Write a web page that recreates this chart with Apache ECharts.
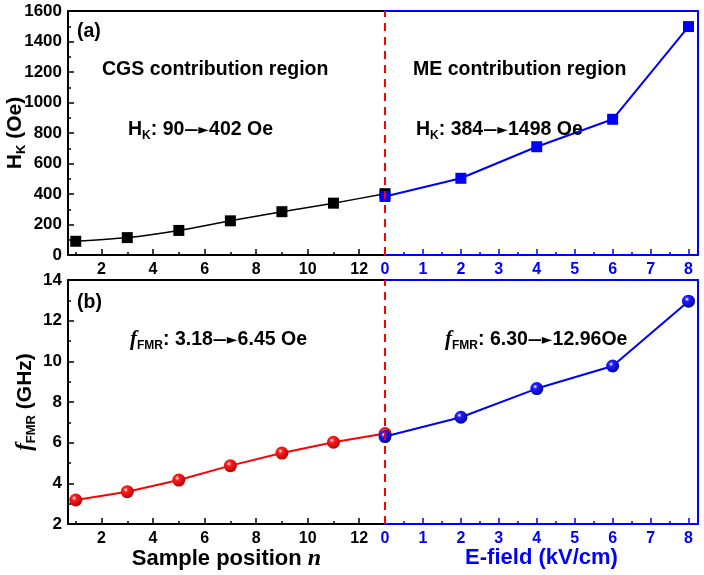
<!DOCTYPE html>
<html>
<head>
<meta charset="utf-8">
<script src="https://cdn.jsdelivr.net/npm/echarts@6/dist/echarts.min.js"></script>
<style>html,body{margin:0;padding:0;background:#fff}#c{width:704px;height:575px}</style>
</head>
<body>
<div id="c"></div>
<script>
// ---- data ----
const nPos = [1, 3, 5, 7, 9, 11, 13];
const hkCGS = [90, 114, 161, 224, 284, 340, 402];
const eField = [0, 2, 4, 6, 8];
const hkME = [384, 503, 710, 890, 1498];
const fCGS = [3.18, 3.59, 4.16, 4.87, 5.49, 6.02, 6.45];
const fME = [6.30, 7.25, 8.66, 9.77, 12.96];
const nMajorTicks = [2, 4, 6, 8, 10, 12];
const nMinorTicks = [1, 3, 5, 7, 9, 11, 13];
const eMajorTicks = [0, 1, 2, 3, 4, 5, 6, 7, 8];
const eMinorTicks = [0.5, 1.5, 2.5, 3.5, 4.5, 5.5, 6.5, 7.5];

const BLACK = '#000000', BLUE = '#0000ff', RED = '#ff0000';
const SANS = '"Liberation Sans", Arial, sans-serif';
const SERIF = '"Liberation Serif", "Times New Roman", serif';
const ARROW = '"DejaVu Sans", sans-serif';

function xAxes(grid, min, max, majors, minors, color, name, nameRich) {
  const main = {
    type: 'value', gridIndex: grid, min: min, max: max, position: 'bottom',
    axisLine: { show: true, onZero: false, lineStyle: { color: color, width: 2 } },
    axisTick: { show: true, inside: true, length: 6, customValues: majors, lineStyle: { color: color, width: 1.5 } },
    axisLabel: { show: true, customValues: majors, color: color, fontSize: 16, fontWeight: 'bold', fontFamily: SANS, margin: 7,
      formatter: v => String(v) },
    splitLine: { show: false }
  };
  if (name) {
    main.name = name;
    main.nameLocation = 'middle';
    main.nameGap = 23;
    main.nameMoveOverlap = false;
    main.nameTextStyle = { color: color, fontSize: 22, fontWeight: 'bold', fontFamily: SANS, rich: nameRich || {} };
  }
  const minor = {
    type: 'value', gridIndex: grid, min: min, max: max, position: 'bottom',
    axisLine: { show: false, onZero: false },
    axisTick: { show: true, inside: true, length: 3, customValues: minors, lineStyle: { color: color, width: 1.5 } },
    axisLabel: { show: false },
    splitLine: { show: false }
  };
  const top = {
    type: 'value', gridIndex: grid, min: min, max: max, position: 'top',
    axisLine: { show: true, onZero: false, lineStyle: { color: color, width: 2 } },
    axisTick: { show: false }, axisLabel: { show: false }, splitLine: { show: false }
  };
  return [main, minor, top];
}

function yLeft(grid, min, max, interval, name, nameGap, rich) {
  return {
    type: 'value', gridIndex: grid, min: min, max: max, interval: interval, position: 'left',
    axisLine: { show: true, onZero: false, lineStyle: { color: BLACK, width: 2 } },
    axisTick: { show: true, inside: true, length: 6, lineStyle: { color: BLACK, width: 1.5 } },
    minorTick: { show: true, splitNumber: 2, length: 3, lineStyle: { color: BLACK, width: 1.5 } },
    axisLabel: { color: BLACK, fontSize: 17, fontWeight: 'bold', fontFamily: SANS, margin: 6, formatter: v => String(v) },
    splitLine: { show: false },
    name: name, nameLocation: 'middle', nameGap: nameGap, nameMoveOverlap: false,
    nameTextStyle: { color: BLACK, fontSize: 21, fontWeight: 'bold', fontFamily: SANS, rich: rich }
  };
}
function yRight(grid, min, max) {
  return {
    type: 'value', gridIndex: grid, min: min, max: max, position: 'right',
    axisLine: { show: true, onZero: false, lineStyle: { color: BLUE, width: 2 } },
    axisTick: { show: false }, axisLabel: { show: false }, splitLine: { show: false }
  };
}

const richAnno = {
  a: { fontSize: 19.5, fontWeight: 'bold', fontFamily: SANS, color: BLACK, lineHeight: 24, verticalAlign: 'middle' },
  r: { fontSize: 14, fontFamily: ARROW, color: BLACK, lineHeight: 24, verticalAlign: 'middle' },
  s: { fontSize: 12, fontWeight: 'bold', fontFamily: SANS, color: BLACK, lineHeight: 12, verticalAlign: 'bottom' },
  f: { fontSize: 21, fontWeight: 'bold', fontStyle: 'italic', fontFamily: SERIF, color: BLACK, lineHeight: 24, verticalAlign: 'middle' }
};
const richYName = {
  a: { fontSize: 21, fontWeight: 'bold', fontFamily: SANS, color: BLACK, lineHeight: 26, verticalAlign: 'middle' },
  s: { fontSize: 13, fontWeight: 'bold', fontFamily: SANS, color: BLACK, lineHeight: 13, verticalAlign: 'bottom' },
  f: { fontSize: 23, fontWeight: 'bold', fontStyle: 'italic', fontFamily: SERIF, color: BLACK, lineHeight: 26, verticalAlign: 'middle' }
};

function pairs(xs, ys) { return xs.map((x, i) => [x, ys[i]]); }

function sphere(c0, c1) {
  return { type: 'radial', x: 0.38, y: 0.35, r: 0.7,
    colorStops: [{ offset: 0, color: '#ffffff' }, { offset: 0.25, color: c0 }, { offset: 1, color: c1 }] };
}

function title(text, left, top) {
  return { text: text, left: left, top: top, padding: 0,
    textStyle: { fontSize: 19.5, fontWeight: 'bold', fontFamily: SANS, color: BLACK, rich: richAnno } };
}

const dashLine = {
  silent: true, symbol: 'none', label: { show: false },
  lineStyle: { color: RED, type: [8, 6], width: 2 },
  data: [{ xAxis: 0 }]
};

const option = {
  animation: false,
  backgroundColor: '#ffffff',
  grid: [
    { left: 68, width: 317, top: 11, height: 244, outerBoundsMode: 'none', containLabel: false },
    { left: 385, right: 6, top: 11, height: 244, outerBoundsMode: 'none', containLabel: false },
    { left: 68, width: 317, top: 280, height: 244, outerBoundsMode: 'none', containLabel: false },
    { left: 385, right: 6, top: 280, height: 244, outerBoundsMode: 'none', containLabel: false }
  ],
  xAxis: [].concat(
    xAxes(0, 0.7, 13, nMajorTicks, nMinorTicks, BLACK),
    xAxes(1, 0, 8.25, eMajorTicks, eMinorTicks, BLUE),
    xAxes(2, 0.7, 13, nMajorTicks, nMinorTicks, BLACK, '{a|Sample position }{n|n}', {
      a: { fontSize: 22, fontWeight: 'bold', fontFamily: SANS, color: BLACK },
      n: { fontSize: 24, fontWeight: 'bold', fontStyle: 'italic', fontFamily: SERIF, color: BLACK }
    }),
    xAxes(3, 0, 8.25, eMajorTicks, eMinorTicks, BLUE, 'E-field (kV/cm)')
  ),
  yAxis: [
    yLeft(0, 0, 1600, 200, '{a|H}{s|K}{a| (Oe)}', 40, richYName),
    yRight(1, 0, 1600),
    yLeft(2, 2, 14, 2, '{f|f}{s|FMR}{a| (GHz)}', 30, richYName),
    yRight(3, 2, 14)
  ],
  title: [
    title('(a)', 77, 22),
    title('CGS contribution region', 102, 60),
    title('ME contribution region', 413, 60),
    title('{a|H}{s|K}{a|: 90}{r|—►}{a|402 Oe}', 128, 118),
    title('{a|H}{s|K}{a|: 384}{r|—►}{a|1498 Oe}', 416, 118),
    title('(b)', 77, 293),
    title('{f|f}{s|FMR}{a|: 3.18}{r|—►}{a|6.45 Oe}', 130, 328),
    title('{f|f}{s|FMR}{a|: 6.30}{r|—►}{a|12.96Oe}', 445, 328)
  ],
  series: [
    { type: 'line', xAxisIndex: 0, yAxisIndex: 0, data: pairs(nPos, hkCGS), smooth: 0.3,
      symbol: 'rect', symbolSize: 11, itemStyle: { color: BLACK },
      lineStyle: { color: BLACK, width: 1.5 }, z: 2 },
    { type: 'line', xAxisIndex: 3, yAxisIndex: 1, data: pairs(eField, hkME),
      symbol: 'rect', symbolSize: 11, itemStyle: { color: BLUE },
      lineStyle: { color: BLUE, width: 2 }, markLine: dashLine, z: 3 },
    { type: 'line', xAxisIndex: 6, yAxisIndex: 2, data: pairs(nPos, fCGS),
      symbol: 'circle', symbolSize: 13, itemStyle: { color: sphere('#ff2020', '#b00000') },
      lineStyle: { color: RED, width: 2 }, z: 2 },
    { type: 'line', xAxisIndex: 9, yAxisIndex: 3, data: pairs(eField, fME),
      symbol: 'circle', symbolSize: 13, itemStyle: { color: sphere('#2020ff', '#0000a0') },
      lineStyle: { color: BLUE, width: 2 }, markLine: dashLine, z: 3 }
  ]
};

const chart = echarts.init(document.getElementById('c'), null, { renderer: 'canvas' });
chart.setOption(option);
</script>
</body>
</html>
